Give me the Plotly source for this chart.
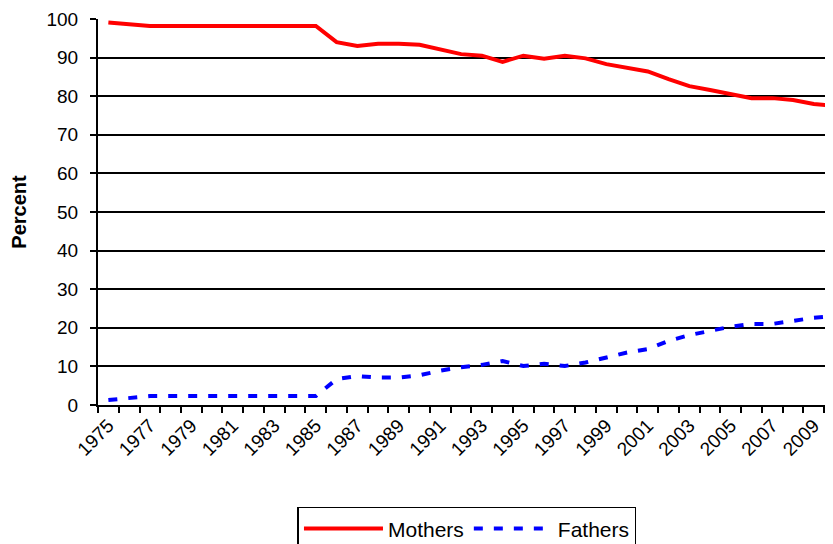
import plotly.graph_objects as go

years = list(range(1975, 2011))
mothers = [99.1, 98.7, 98.2, 98.2, 98.2, 98.2, 98.2, 98.2, 98.2, 98.2, 98.2,
           94.0, 93.0, 93.6, 93.6, 93.3, 92.0, 90.9, 90.5, 88.9, 90.5, 89.7,
           90.5, 89.8, 88.3, 87.4, 86.4, 84.4, 82.6, 81.6, 80.6, 79.5, 79.5,
           79.0, 78.0, 77.5]
fathers = [1.3, 1.8, 2.3, 2.3, 2.3, 2.3, 2.3, 2.3, 2.3, 2.3, 2.3,
           6.7, 7.5, 7.1, 7.1, 7.7, 8.9, 9.8, 10.4, 11.4, 10.1, 10.7,
           10.1, 11.0, 12.4, 13.6, 14.5, 16.6, 18.1, 19.2, 20.3, 21.0, 21.0,
           21.8, 22.6, 23.0]
tick_years = list(range(1975, 2010, 2))
y_ticks = list(range(0, 101, 10))

FONT = "Liberation Sans, Arial, sans-serif"

fig = go.Figure()
fig.add_trace(go.Scatter(x=years, y=mothers, name="Mothers", mode="lines",
                         line=dict(color="#FF0000", width=4)))
fig.add_trace(go.Scatter(x=years, y=fathers, name="Fathers", mode="lines",
                         line=dict(color="#0000FF", width=4, dash="9px,11px")))

fig.update_layout(
    width=833, height=544,
    margin=dict(l=90, r=0, t=11, b=147, autoexpand=False),
    paper_bgcolor="white", plot_bgcolor="white",
    font=dict(family=FONT, color="black", size=19),
    showlegend=True,
    legend=dict(orientation="h", x=0.4966, xanchor="center", y=-0.264, yanchor="top",
                bordercolor="black", borderwidth=1.5, font=dict(size=21),
                itemwidth=79, bgcolor="white"),
    xaxis=dict(range=[1974.5, 2010.31], tickvals=tick_years,
               ticktext=[str(y) for y in tick_years], tickangle=-45,
               showgrid=False, showline=True, linecolor="black", linewidth=2,
               ticks="outside", ticklen=0, tickcolor="black", automargin=False,
               minor=dict(ticks="outside", ticklen=6, tick0=1974.5, dtick=1,
                          tickcolor="black", tickwidth=2, showgrid=False),
               tickfont=dict(size=19), zeroline=False),
    yaxis=dict(range=[0, 100], tickvals=y_ticks, showgrid=True,
               gridcolor="black", gridwidth=2, showline=True, linecolor="black",
               linewidth=2, ticks="outside", ticklen=6, tickcolor="black",
               tickwidth=2, tickfont=dict(size=19), zeroline=False, automargin=False,
               ticklabelstandoff=8,
               title=dict(text="<b>Percent</b>", font=dict(size=20), standoff=16)),
)

fig.write_html("out.html")
